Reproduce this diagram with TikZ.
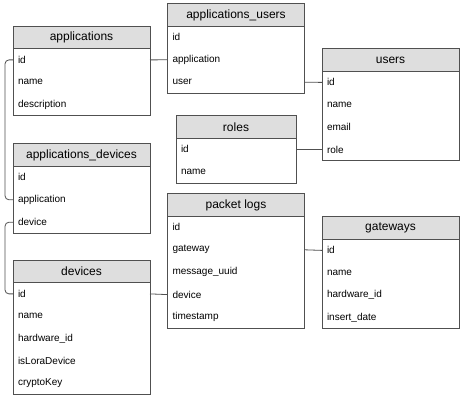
\documentclass[tikz,border=0pt]{standalone}
\usepackage{fontspec}
\setmainfont{Liberation Sans}
\definecolor{hdrgray}{HTML}{DEDEDE}
\definecolor{edgegray}{HTML}{505050}

\begin{document}
\begin{tikzpicture}[x=1pt, y=1pt, node distance=22.4pt,
  hdr/.style={draw=edgegray, line width=0.8pt, fill=hdrgray, minimum width=137pt,
    minimum height=22.4pt, inner sep=0pt, outer sep=0pt, font=\fontsize{12}{14}\selectfont},
  row/.style={text width=127pt, minimum height=22.4pt, inner xsep=5pt, inner ysep=0pt,
    outer sep=0pt, align=left, font=\fontsize{10}{12}\selectfont},
  tbl/.style={draw=edgegray, line width=0.8pt},
  link/.style={draw=edgegray, line width=0.8pt}]
  \useasboundingbox (0,0) rectangle (463,401);

  % applications
  \node[hdr] (app) at (81.5,363.5) {applications};
  \node[row, below of=app] (app-id) {id};
  \node[row, below of=app-id] (app-name) {name};
  \node[row, below of=app-name] (app-desc) {description};
  \draw[tbl] (app.north west) rectangle (app-desc.south east);

  % applications_users
  \node[hdr] (au) at (236,386) {applications\_users};
  \node[row, below of=au] (au-id) {id};
  \node[row, below of=au-id] (au-app) {application};
  \node[row, below of=au-app] (au-user) {user};
  \draw[tbl] (au.north west) rectangle (au-user.south east);

  % users
  \node[hdr] (usr) at (390.5,341) {users};
  \node[row, below of=usr] (usr-id) {id};
  \node[row, below of=usr-id] (usr-name) {name};
  \node[row, below of=usr-name] (usr-mail) {email};
  \node[row, below of=usr-mail] (usr-role) {role};
  \draw[tbl] (usr.north west) rectangle (usr-role.south east);

  % roles
  \node[hdr, minimum width=120pt] (rol) at (236,274) {roles};
  \node[row, text width=110pt, below of=rol] (rol-id) {id};
  \node[row, text width=110pt, below of=rol-id] (rol-name) {name};
  \draw[tbl] (rol.north west) rectangle (rol-name.south east);

  % applications_devices
  \node[hdr] (ad) at (81.5,246) {applications\_devices};
  \node[row, below of=ad] (ad-id) {id};
  \node[row, below of=ad-id] (ad-app) {application};
  \node[row, below of=ad-app] (ad-dev) {device};
  \draw[tbl] (ad.north west) rectangle (ad-dev.south east);

  % devices
  \node[hdr] (dev) at (81.5,129.5) {devices};
  \node[row, below of=dev] (dev-id) {id};
  \node[row, below of=dev-id] (dev-name) {name};
  \node[row, below of=dev-name] (dev-hw) {hardware\_id};
  \node[row, below of=dev-hw] (dev-lora) {isLoraDevice};
  \node[row, below of=dev-lora] (dev-key) {cryptoKey};
  \draw[tbl] (dev.north west) rectangle (dev-key.south east);

  % packet logs
  \node[hdr] (pkt) at (236,196) {packet logs};
  \node[row, below of=pkt] (pkt-id) {id};
  \node[row, below of=pkt-id] (pkt-gw) {gateway};
  \node[row, below of=pkt-gw] (pkt-uuid) {message\_uuid};
  \node[row, below of=pkt-uuid] (pkt-dev) {device};
  \node[row, below of=pkt-dev] (pkt-ts) {timestamp};
  \draw[tbl] (pkt.north west) rectangle (pkt-ts.south east);

  % gateways
  \node[hdr] (gw) at (390.5,173) {gateways};
  \node[row, below of=gw] (gw-id) {id};
  \node[row, below of=gw-id] (gw-name) {name};
  \node[row, below of=gw-name] (gw-hw) {hardware\_id};
  \node[row, below of=gw-hw] (gw-date) {insert\_date};
  \draw[tbl] (gw.north west) rectangle (gw-date.south east);

  % links
  \draw[link] (app-id.east) -- (au-app.west);
  \draw[link] (au-user.east) -- (usr-id.west);
  \draw[link] (rol-id.east) -- (usr-role.west);
  \draw[link] (dev-id.east) -- (pkt-dev.west);
  \draw[link] (pkt-gw.east) -- (gw-id.west);
  \draw[link, rounded corners=4pt] (app-id.west) -- ++(-8,0) |- (ad-app.west);
  \draw[link, rounded corners=4pt] (ad-dev.west) -- ++(-8,0) |- (dev-id.west);
\end{tikzpicture}
\end{document}
